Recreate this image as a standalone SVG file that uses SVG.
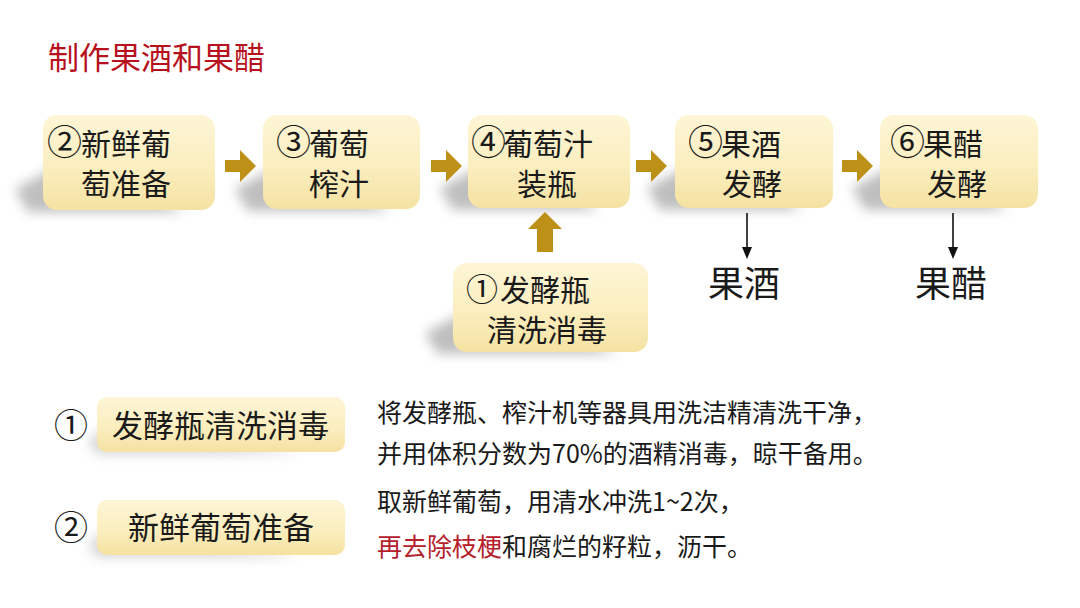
<svg xmlns="http://www.w3.org/2000/svg" width="1080" height="608" viewBox="0 0 1080 608">
<style>
text{font-family:"Noto Sans CJK SC","Noto Sans",sans-serif;fill:#1a1a1a}
.bt{font-size:30px}
.bb{font-size:31px}
.cd{font-size:35px}
.cb{font-size:34px}
.desc{font-size:25px}
.red{fill:#b5202a}
.title{font-size:31px;fill:#b7111d}
.big{font-size:36px}
.box{fill:url(#g)}
.sh{fill:#8a8a8a;opacity:0.55;filter:url(#blur)}
.ga{fill:#bd9118}
.thin{stroke:#111;stroke-width:1.6;fill:none}
.tip{fill:#111}
</style>
<defs>
<linearGradient id="g" x1="0" y1="0" x2="0" y2="1">
<stop offset="0" stop-color="#fdf5d6"/>
<stop offset="0.55" stop-color="#fbeebf"/>
<stop offset="1" stop-color="#f5e2a2"/>
</linearGradient>
<filter id="blur" x="-50%" y="-50%" width="200%" height="200%"><feGaussianBlur stdDeviation="6"/></filter>
<path id="ra" d="M0,-6 H15 V-16 L31,0 L15,16 V6 H0 Z"/>
</defs>
<rect width="1080" height="608" fill="#ffffff"/>
<text class="title" x="48" y="69">制作果酒和果醋</text>

<g id="node-step2">
<path class="sh" d="M73,158 L15,189 L28,212 L185,212 Z"/>
<rect class="box" x="43" y="115" width="172" height="95" rx="14"/>
<text class="cd" x="47" y="155">②</text>
<text class="bt" x="81" y="155">新鲜葡</text>
<text class="bt" x="81" y="195">萄准备</text>
</g>
<g id="node-step3">
<path class="sh" d="M293,158 L235,189 L248,211 L390,211 Z"/>
<rect class="box" x="263" y="115" width="157" height="94" rx="14"/>
<text class="cd" x="276" y="155">③</text>
<text class="bt" x="309" y="155">葡萄</text>
<text class="bt" x="309" y="195">榨汁</text>
</g>
<g id="node-step4">
<path class="sh" d="M498,157 L440,188 L453,210 L600,210 Z"/>
<rect class="box" x="468" y="115" width="162" height="93" rx="14"/>
<text class="cd" x="471" y="155">④</text>
<text class="bt" x="503" y="155">葡萄汁</text>
<text class="bt" x="517" y="195">装瓶</text>
</g>
<g id="node-step5">
<path class="sh" d="M705,157 L647,188 L660,210 L803,210 Z"/>
<rect class="box" x="675" y="115" width="158" height="93" rx="14"/>
<text class="cd" x="688" y="155">⑤</text>
<text class="bt" x="721" y="155">果酒</text>
<text class="bt" x="722" y="195">发酵</text>
</g>
<g id="node-step6">
<path class="sh" d="M910,157 L852,188 L865,210 L1008,210 Z"/>
<rect class="box" x="880" y="115" width="158" height="93" rx="14"/>
<text class="cd" x="890" y="155">⑥</text>
<text class="bt" x="923" y="155">果醋</text>
<text class="bt" x="927" y="195">发酵</text>
</g>
<g id="node-step1">
<path class="sh" d="M483,303 L425,333 L438,354 L618,354 Z"/>
<rect class="box" x="453" y="263" width="195" height="89" rx="14"/>
<text class="bt" x="466" y="301" style="font-size:32px">①</text>
<text class="bt" x="500" y="301">发酵瓶</text>
<text class="bt" x="487" y="341">清洗消毒</text>
</g>
<g id="node-wine">
<text class="big" x="708" y="297">果酒</text>
</g>
<g id="node-vinegar">
<text class="big" x="915" y="297">果醋</text>
</g>

<g id="connectors">
<use href="#ra" class="ga" x="225" y="166"/>
<use href="#ra" class="ga" x="431" y="166"/>
<use href="#ra" class="ga" x="636" y="166"/>
<use href="#ra" class="ga" x="842" y="166"/>
<path class="ga" d="M545,212 L562,229 L553,229 L553,252 L537,252 L537,229 L528,229 Z"/>
<line class="thin" x1="747" y1="213" x2="747" y2="249"/>
<path class="tip" d="M742,247 L752,247 L747,259 Z"/>
<line class="thin" x1="953" y1="213" x2="953" y2="249"/>
<path class="tip" d="M948,247 L958,247 L953,259 Z"/>
</g>

<g id="legend-1">
<text class="cb" x="54" y="438">①</text>
<path class="sh" d="M110,425 L88,440 L96,454 L300,454 Z" style="opacity:0.35;filter:url(#blur)"/>
<rect class="box" x="97" y="397" width="248" height="55" rx="10"/>
<text class="bb" x="112" y="437">发酵瓶清洗消毒</text>
<text class="desc" x="377" y="422">将发酵瓶、榨汁机等器具用洗洁精清洗干净，</text>
<text class="desc" x="377" y="463">并用体积分数为70%的酒精消毒，晾干备用。</text>
</g>
<g id="legend-2">
<text class="cb" x="54" y="540">②</text>
<path class="sh" d="M110,528 L88,543 L96,557 L300,557 Z" style="opacity:0.35;filter:url(#blur)"/>
<rect class="box" x="97" y="500" width="248" height="55" rx="10"/>
<text class="bb" x="128" y="539">新鲜葡萄准备</text>
<text class="desc" x="377" y="511">取新鲜葡萄，用清水冲洗1~2次，</text>
<text class="desc" x="377" y="556"><tspan class="red">再去除枝梗</tspan>和腐烂的籽粒，沥干。</text>
</g>
</svg>
